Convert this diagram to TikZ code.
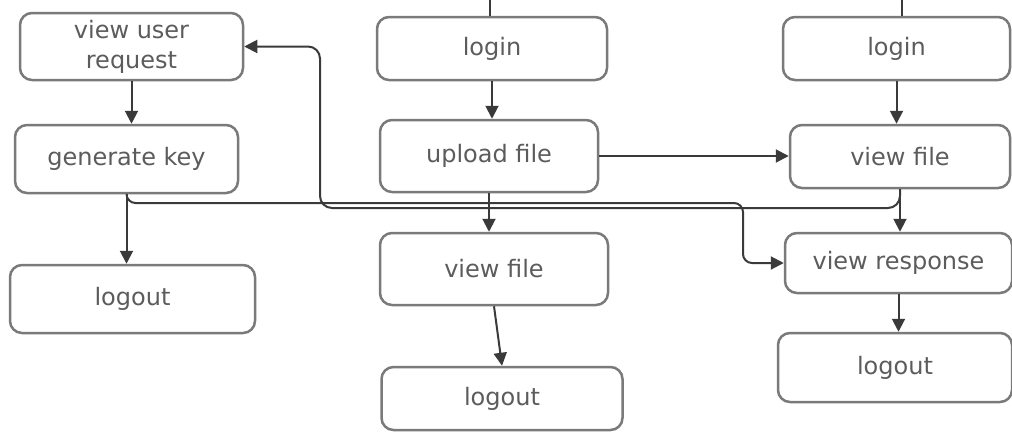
\documentclass[tikz,border=0pt]{standalone}
\usepackage{xcolor}
\usepackage{fontspec}
\usepackage{tikz}
\usetikzlibrary{arrows.meta, positioning, calc}
\newfontfamily\boxfont{DejaVu Sans}
\definecolor{boxline}{HTML}{7A7A7A}
\definecolor{boxtext}{HTML}{5C5C5C}
\definecolor{wire}{HTML}{3A3A3A}
\tikzstyle{line} = [draw=wire, line width=2pt, -{Triangle[length=13pt,width=13pt]}]
\tikzstyle{stub} = [draw=wire, line width=2pt]
\tikzstyle{box} = [rectangle, draw=boxline, line width=2.5pt, rounded corners=12pt, fill=white, text=boxtext, align=center, font={\boxfont\fontsize{24}{30}\selectfont}]

\begin{document}
\begin{tikzpicture}[x=1pt, y=1pt]
        \useasboundingbox (0,0) rectangle (1012,-432);

        % owner column
        \node [box, minimum width=223pt, minimum height=67pt] (vreq) at (131.5,-46.5) {view user\\request};
        \node [box, below of=vreq, node distance=112.5pt, xshift=-5pt, minimum width=223pt, minimum height=68pt] (genkey) {generate key};
        \node [box, below of=genkey, node distance=140pt, xshift=6pt, minimum width=245pt, minimum height=68pt] (logoutA) {logout};

        % upload column
        \node [box, minimum width=230pt, minimum height=63pt] (loginB) at (492,-48.5) {login};
        \node [box, below of=loginB, node distance=107.5pt, xshift=-3pt, minimum width=218pt, minimum height=72pt] (upload) {upload file};
        \node [box, below of=upload, node distance=113pt, xshift=5pt, minimum width=228pt, minimum height=72pt] (viewB) {view file};
        \node [box, below of=viewB, node distance=129.5pt, xshift=8pt, minimum width=241pt, minimum height=63pt] (logoutB) {logout};

        % user column
        \node [box, minimum width=227pt, minimum height=63pt] (loginC) at (896.5,-48.5) {login};
        \node [box, below of=loginC, node distance=108pt, xshift=3.5pt, minimum width=220pt, minimum height=63pt] (viewC) {view file};
        \node [box, below of=viewC, node distance=106.5pt, xshift=-1.5pt, minimum width=227pt, minimum height=60pt] (respC) {view response};
        \node [box, below of=respC, node distance=104.5pt, xshift=-3.5pt, minimum width=234pt, minimum height=69pt] (logoutC) {logout};

        \coordinate (topB) at (490,0);
        \coordinate (topC) at (902,0);
        \coordinate (keybus) at (743,-203);
        \coordinate (reqbus) at (320,-208);

        \path [stub] (topB) -- (topB |- loginB.north);
        \path [stub] (topC) -- (topC |- loginC.north);

        \path [line] (vreq.south) -- (vreq.south |- genkey.north);
        \path [line] (genkey.south) -- (genkey.south |- logoutA.north);
        \path [line, rounded corners=9pt] (genkey.south) |- (keybus) |- (respC.west);

        \path [line] (loginB.south) -- (loginB.south |- upload.north);
        \path [line] (upload.south) -- (upload.south |- viewB.north);
        \path [line] (upload.east) -- (upload.east -| viewC.west);
        \path [line] (viewB.south) -- (logoutB.north);

        \path [line] (loginC.south) -- (loginC.south |- viewC.north);
        \path [line] (viewC.south) -- (viewC.south |- respC.north);
        \path [line, rounded corners=12pt] (viewC.south) |- (reqbus) |- (vreq.east);
        \path [line] (respC.south) -- (respC.south |- logoutC.north);
    \end{tikzpicture}
\end{document}
